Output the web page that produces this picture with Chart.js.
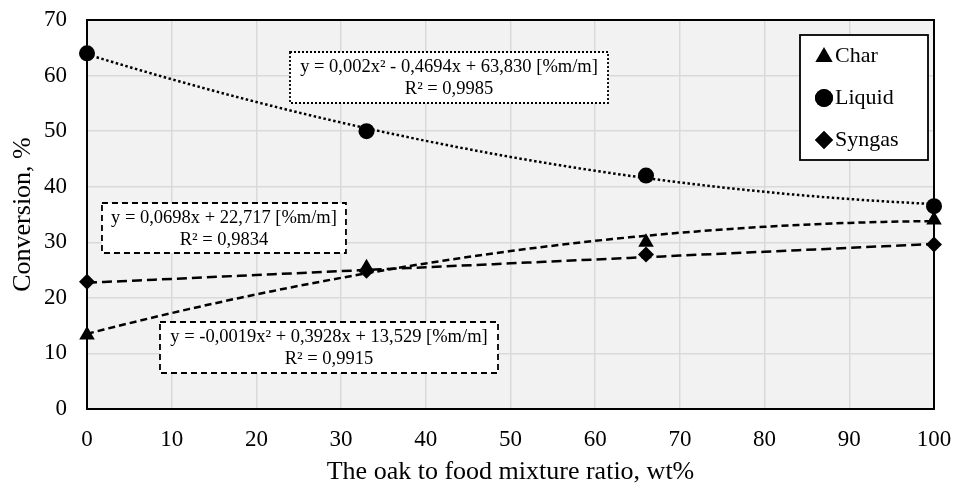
<!DOCTYPE html>
<html>
<head>
<meta charset="utf-8">
<script src="https://cdn.jsdelivr.net/npm/chart.js@4.4.0/dist/chart.umd.min.js"></script>
<style>
  html, body { margin: 0; padding: 0; background: #fff; }
  #wrap { width: 955px; height: 486px; }
</style>
</head>
<body>
<div id="wrap"><canvas id="chart"></canvas></div>
<script>
// mixture ratio, wt%
const ratios = [0, 33, 66, 100];
const seriesNames = ["Char", "Liquid", "Syngas"];
const charValues = [13.3, 25.4, 30.0, 34.0];
const liquidValues = [64.0, 50.0, 42.0, 36.5];
const syngasValues = [22.9, 24.9, 27.8, 29.6];

// trendline coefficients [c0, c1, c2] as printed on the chart
const charTrend = [13.529, 0.3928, -0.0019];
const liquidTrend = [63.830, -0.4694, 0.002];
const syngasTrend = [22.717, 0.0698, 0];

const charLabel = ["y = -0,0019x² + 0,3928x + 13,529 [%m/m]", "R² = 0,9915"];
const liquidLabel = ["y = 0,002x² - 0,4694x + 63,830 [%m/m]", "R² = 0,9985"];
const syngasLabel = ["y = 0,0698x + 22,717 [%m/m]", "R² = 0,9834"];

const xTicks = [0, 10, 20, 30, 40, 50, 60, 70, 80, 90, 100];
const yTicks = [0, 10, 20, 30, 40, 50, 60, 70];

const FONT = "'Liberation Serif', 'Times New Roman', serif";

function pts(values) {
  return ratios.map((x, i) => ({ x: x, y: values[i] }));
}

// curve along the printed trend equation
function trendPts(c) {
  const out = [];
  for (let x = 0; x <= 100; x += 2) {
    out.push({ x: x, y: c[0] + c[1] * x + c[2] * x * x });
  }
  return out;
}

const styles = { Char: "triangle", Liquid: "circle", Syngas: "rectRot" };
const legendRadius = { Char: 10, Liquid: 9, Syngas: 9 };

// background + frame of the plot area
const plotFrame = {
  id: "plotFrame",
  beforeDraw(chart) {
    const { ctx, chartArea: a } = chart;
    ctx.save();
    ctx.fillStyle = "#f2f2f2";
    ctx.fillRect(a.left, a.top, a.right - a.left, a.bottom - a.top);
    ctx.restore();
  },
  beforeDatasetsDraw(chart) {
    const { ctx, chartArea: a } = chart;
    ctx.save();
    ctx.strokeStyle = "#000";
    ctx.lineWidth = 2;
    ctx.strokeRect(a.left, a.top, a.right - a.left, a.bottom - a.top);
    ctx.restore();
  },
};

// equation boxes and legend
const boxes = {
  id: "boxes",
  afterDatasetsDraw(chart) {
    const { ctx } = chart;
    const xs = chart.scales.x, ys = chart.scales.y;

    function eqBox(lines, cx, cy, w, h, dash) {
      const px = xs.getPixelForValue(cx), py = ys.getPixelForValue(cy);
      ctx.save();
      ctx.fillStyle = "#fff";
      ctx.fillRect(px - w / 2, py - h / 2, w, h);
      ctx.setLineDash(dash);
      ctx.strokeStyle = "#000";
      ctx.lineWidth = 1.8;
      ctx.strokeRect(px - w / 2, py - h / 2, w, h);
      ctx.setLineDash([]);
      ctx.fillStyle = "#000";
      ctx.font = "18.5px " + FONT;
      ctx.textAlign = "center";
      ctx.textBaseline = "middle";
      ctx.fillText(lines[0], px, py - 10);
      ctx.fillText(lines[1], px, py + 12);
      ctx.restore();
    }
    eqBox(liquidLabel, 42.74, 59.65, 318, 51, [2, 2]);
    eqBox(syngasLabel, 16.17, 32.57, 244, 50, [6, 4]);
    eqBox(charLabel, 28.57, 11.07, 338, 51, [6, 4]);

    // legend
    const lx = 800, ly = 35, lw = 128, lh = 125;
    ctx.save();
    ctx.fillStyle = "#fff";
    ctx.fillRect(lx, ly, lw, lh);
    ctx.strokeStyle = "#000";
    ctx.lineWidth = 1.8;
    ctx.strokeRect(lx, ly, lw, lh);
    ctx.font = "22px " + FONT;
    ctx.textBaseline = "middle";
    seriesNames.forEach((name, i) => {
      const y = ly + 21 + i * 42;
      Chart.helpers.drawPoint(ctx, { pointStyle: styles[name], radius: legendRadius[name], borderWidth: 0 }, lx + 24, y + (name === "Char" ? 1 : 0));
      ctx.fillStyle = "#000";
      ctx.fill();
      ctx.fillText(name, lx + 35, y);
    });
    ctx.restore();
  },
};

function markerSet(name, values, r) {
  return {
    label: name,
    data: pts(values),
    pointStyle: styles[name],
    pointRadius: r,
    pointBackgroundColor: "#000",
    pointBorderColor: "#000",
    pointBorderWidth: 0,
    showLine: false,
    clip: false,
    order: 0,
  };
}

function trendSet(name, c, dash) {
  return {
    label: name + " trend",
    data: trendPts(c),
    showLine: true,
    pointRadius: 0,
    borderColor: "#000",
    borderWidth: 2.5,
    borderDash: dash,
    tension: 0,
    order: 1,
  };
}

new Chart(document.getElementById("chart"), {
  type: "scatter",
  data: {
    datasets: [
      trendSet("Liquid", liquidTrend, [2.5, 2.5]),
      trendSet("Syngas", syngasTrend, [10, 5]),
      trendSet("Char", charTrend, [7, 4]),
      markerSet("Char", charValues, 9),
      markerSet("Liquid", liquidValues, 8),
      markerSet("Syngas", syngasValues, 8),
    ],
  },
  options: {
    responsive: true,
    maintainAspectRatio: false,
    animation: false,
    layout: { padding: { top: 20, right: 21, left: 0, bottom: 0 } },
    plugins: { legend: { display: false }, tooltip: { enabled: false } },
    scales: {
      x: {
        type: "linear",
        min: 0,
        max: 100,
        afterBuildTicks: (s) => { s.ticks = xTicks.map((v) => ({ value: v })); },
        afterFit: (s) => { s.height = 77; s.paddingLeft = 0; s.paddingRight = 0; },
        grid: { color: "#d9d9d9", lineWidth: 1.5, drawTicks: false },
        border: { display: false },
        ticks: { color: "#000", font: { family: FONT, size: 23 }, padding: 17, maxRotation: 0 },
        title: { display: true, text: "The oak to food mixture ratio, wt%", color: "#000", font: { family: FONT, size: 26 }, padding: { top: 0, bottom: -2 } },
      },
      y: {
        type: "linear",
        min: 0,
        max: 70,
        afterBuildTicks: (s) => { s.ticks = yTicks.map((v) => ({ value: v })); },
        afterFit: (s) => { s.width = 87; s.paddingTop = 0; s.paddingBottom = 0; },
        grid: { color: "#d9d9d9", lineWidth: 1.5, drawTicks: false },
        border: { display: false },
        ticks: { color: "#000", font: { family: FONT, size: 23 }, padding: 20 },
        title: { display: true, text: "Conversion, %", color: "#000", font: { family: FONT, size: 26 }, padding: { top: 8, bottom: 0 } },
      },
    },
  },
  plugins: [plotFrame, boxes],
});
</script>
</body>
</html>
